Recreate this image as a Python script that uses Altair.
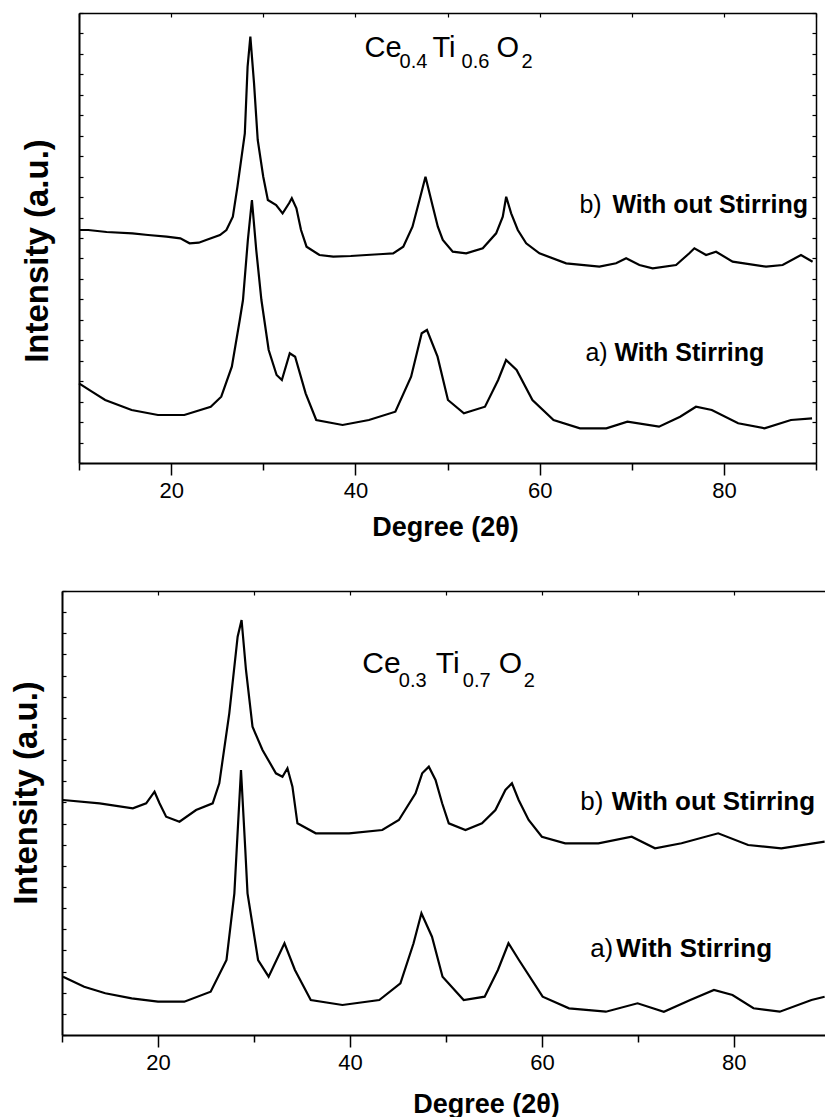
import altair as alt
import pandas as pd

FONT = "Liberation Sans"

# ---------------- Top panel: Ce0.4 Ti0.6 O2 ----------------
top_a_deg = [10.0, 11.4, 12.84, 15.71, 18.57, 21.43, 24.3, 25.44, 26.59, 27.45,
             27.8, 28.33, 28.77, 29.24, 29.8, 30.59, 31.45, 32.02, 32.88, 33.46,
             34.6, 35.75, 38.61, 41.47, 44.34, 46.05, 47.2, 47.77, 48.92, 50.05,
             51.78, 54.07, 55.5, 56.36, 57.5, 59.22, 61.51, 64.38, 67.24, 69.53,
             72.96, 75.25, 76.97, 78.69, 81.55, 84.41, 87.28, 89.57]
top_a_int = [79.7, 71.3, 63, 53, 48, 48, 56.3, 66.3, 96.3, 143,
             163, 223, 263, 213, 163, 113, 88, 83, 109.7, 106.3,
             69.7, 43, 38, 43, 51.3, 86.3, 129.7, 133, 106.3, 63,
             49.7, 56.3, 83, 103, 93, 63, 43, 34.7, 34.7, 41.3,
             36.3, 46.3, 56.3, 53, 39.7, 34.7, 43, 44.7]

top_b_deg = [10.0, 11.0, 13.0, 15.8, 17.5, 19.5, 21.0, 22.0, 23.0, 23.8,
             25.3, 26.0, 26.7, 27.2, 28.0, 28.3, 28.6, 29.0, 29.4, 30.0,
             30.5, 31.4, 32.1, 32.8, 33.1, 33.6, 34.1, 34.7, 36.1, 37.6,
             39.5, 41.2, 43.0, 44.1, 45.2, 46.2, 46.96, 47.61, 48.41, 48.95,
             49.49, 50.57, 52.03, 53.83, 55.28, 56.0, 56.37, 56.91, 57.63, 58.54,
             59.98, 62.88, 66.49, 68.3, 69.39, 70.83, 72.27, 74.81, 76.25, 76.8,
             78.07, 79.15, 80.95, 84.58, 86.38, 88.37, 89.63]
top_b_int = [233, 233, 231, 229.7, 228, 226.3, 224.7, 219.7, 220.3, 223,
             228, 233, 246.3, 276.3, 329.7, 396.3, 426.3, 379.7, 323, 286.3,
             263, 258, 249.7, 259.7, 264.7, 254.7, 233, 216.3, 208, 206.3,
             207, 208, 209, 209.7, 216.3, 236.3, 263, 286.3, 256.3, 236.3,
             223, 211.3, 209.7, 214.7, 229.7, 246.3, 266.3, 249.7, 233, 219.7,
             209.7, 199.7, 196.3, 199.7, 204.7, 198, 194.7, 198, 209.7, 214.7,
             208, 211.3, 201.3, 196.3, 198, 208, 201.3]

# ---------------- Bottom panel: Ce0.3 Ti0.7 O2 ----------------
bot_a_deg = [10.11, 12.31, 14.51, 17.26, 20.0, 22.74, 25.49, 27.14, 27.96, 28.2,
             28.65, 29.1, 29.33, 30.43, 31.53, 33.18, 34.27, 35.92, 39.22, 43.06,
             45.26, 46.63, 47.45, 48.55, 49.65, 51.85, 54.04, 55.42, 56.52, 57.61,
             60.08, 62.83, 66.67, 69.97, 72.71, 75.46, 77.93, 79.86, 82.05, 84.79,
             88.09, 89.46]
bot_a_int = [58.3, 48.3, 41.7, 36.7, 33.3, 33.3, 43.3, 75, 141.7, 185,
             265, 185, 141.7, 75, 58.3, 91.7, 65, 35, 30, 35,
             51.7, 91.7, 121.7, 98.3, 58.3, 35, 38.3, 65, 91.7, 75,
             38.3, 26.7, 23.3, 31.7, 23.3, 35, 45, 40, 26.7, 23.3,
             35, 38.3]

bot_b_deg = [10.1, 13.92, 17.38, 18.77, 19.64, 20.16, 20.85, 22.24, 23.97, 25.7,
             26.39, 27.43, 28.3, 28.71, 29.17, 29.85, 30.89, 32.29, 32.97, 33.49,
             34.01, 34.53, 36.44, 39.91, 43.37, 45.1, 46.84, 47.53, 48.22, 48.92,
             49.61, 50.3, 52.04, 53.76, 55.16, 56.2, 56.88, 57.58, 58.62, 60.0,
             62.43, 65.89, 69.36, 71.79, 74.55, 78.37, 81.49, 84.95, 89.46]
bot_b_int = [235, 231.7, 226.7, 231.7, 243.3, 231.7, 218.3, 213.3, 225, 231.7,
             251.7, 321.7, 398.3, 415, 365, 308.3, 285, 261.7, 258.3, 266.7,
             248.3, 211.7, 201.7, 201.7, 205, 215, 241.7, 261.7, 268.3, 255,
             231.7, 211.7, 205, 211.7, 225, 245, 251.7, 235, 215, 198.3,
             191.7, 191.7, 198.3, 186.7, 191.7, 201.7, 190, 186.7, 193.3]

# ---------------- annotations (text, degree, intensity) ----------------
top_formula = [("Ce", 41.0, 406.3), ("Ti", 48.37, 406.3), ("O", 55.32, 406.3)]
top_subs = [("0.4", 44.79, 394.7), ("0.6", 51.52, 394.7), ("2", 58.03, 394.7)]
top_prefix = [("b)", 64.32, 249.7), ("a)", 64.97, 102.3)]
top_bold = [("With out Stirring", 67.9, 249.7), ("With Stirring", 68.12, 102.3)]

bot_formula = [("Ce", 41.29, 361.7), ("Ti", 48.95, 361.7), ("O", 55.5, 361.7)]
bot_subs = [("0.3", 45.10, 348.3), ("0.7", 51.76, 348.3), ("2", 58.1, 348.3)]
bot_prefix = [("b)", 63.99, 225), ("a)", 65.03, 78.3)]
bot_bold = [("With out Stirring", 67.28, 225), ("With Stirring", 67.76, 78.3)]


def text_layer(rows, size, weight, xs, ys):
    df = pd.DataFrame(rows, columns=["t", "deg", "I"])
    return alt.Chart(df).mark_text(
        align="left", baseline="alphabetic", font=FONT, fontSize=size,
        fontWeight=weight, color="black"
    ).encode(
        x=alt.X("deg:Q", scale=xs, axis=None),
        y=alt.Y("I:Q", scale=ys, axis=None),
        text="t:N",
    )


def make_panel(a_deg, a_int, b_deg, b_int, xdom, xrange, ydom, w, h, yticks, xticks,
               show_right, left_offset, ytx, yty, xtx, xty, texts, fs_formula, fs_label):
    xs = alt.Scale(domain=xdom, range=xrange, nice=False, zero=False)
    ys = alt.Scale(domain=ydom, nice=False, zero=False)
    df_a = pd.DataFrame({"deg": a_deg, "I": a_int})
    df_b = pd.DataFrame({"deg": b_deg, "I": b_int})

    bottom_axis = alt.Axis(
        orient="bottom", values=xticks, grid=False,
        labelExpr="datum.value % 20 === 0 ? datum.label : ''",
        tickSize={"condition": {"test": "datum.value % 20 === 0", "value": 12}, "value": 7},
        tickColor="black", tickWidth=1.5, domainColor="black", domainWidth=2,
        labelFont=FONT, labelFontSize=22, labelColor="black", labelPadding=5,
        title="Degree (2θ)", titleFont=FONT, titleFontSize=27, titleFontWeight="bold",
        titleColor="black", titleX=xtx, titleY=xty, titleAlign="center",
        titleBaseline="alphabetic",
    )
    left_axis = alt.Axis(
        orient="left", values=yticks, grid=False, labels=False, offset=left_offset,
        tickSize={"expr": "-4"}, tickColor="black", tickWidth=1.2,
        domainColor="black", domainWidth=2,
        title="Intensity (a.u.)", titleFont=FONT, titleFontSize=33,
        titleFontWeight="bold", titleColor="black", titleAngle=270,
        titleAlign="center", titleBaseline="middle", titleX=ytx, titleY=yty,
    )
    top_axis = alt.Axis(
        orient="top", values=xticks, grid=False, labels=False, title=None,
        tickSize={"expr": "-4"}, tickColor="black", tickWidth=1.2,
        domainColor="black", domainWidth=1.5,
    )
    if show_right:
        right_axis = alt.Axis(
            orient="right", values=yticks, grid=False, labels=False, title=None,
            tickSize={"expr": "-4"}, tickColor="black", tickWidth=1.2,
            domainColor="black", domainWidth=1.5,
        )
    else:
        right_axis = None

    line_a = alt.Chart(df_a).mark_line(color="black", strokeWidth=2.2, clip=True).encode(
        x=alt.X("deg:Q", scale=xs, axis=bottom_axis),
        y=alt.Y("I:Q", scale=ys, axis=left_axis),
    )
    line_b = alt.Chart(df_b).mark_line(color="black", strokeWidth=2.2, clip=True).encode(
        x=alt.X("deg:Q", scale=xs, axis=top_axis),
        y=alt.Y("I:Q", scale=ys, axis=right_axis),
    )
    formula, subs, prefix, bold = texts
    layers = [
        line_a, line_b,
        text_layer(formula, fs_formula, "normal", xs, ys),
        text_layer(subs, 20, "normal", xs, ys),
        text_layer(prefix, fs_label, "normal", xs, ys),
        text_layer(bold, fs_label, "bold", xs, ys),
    ]
    return alt.layer(*layers).resolve_axis(x="independent", y="independent").properties(
        width=w, height=h
    )


top_yticks = [i * 450 / 22 for i in range(23)]
bot_yticks = [i * 444 / 21 for i in range(22)]

# top panel: plot area shifted 17 px right of the bottom panel's
top = make_panel(
    top_a_deg, top_a_int, top_b_deg, top_b_int,
    [10, 90], [17, 754], [0, 450], 754, 450, top_yticks, list(range(10, 91, 10)), True,
    -17, -42, 237.5, 383, 72,
    (top_formula, top_subs, top_prefix, top_bold), 29, 25,
)
bottom = make_panel(
    bot_a_deg, bot_a_int, bot_b_deg, bot_b_int,
    [10, 89.5], [0, 763], [0, 444], 763, 444, bot_yticks, list(range(10, 81, 10)), False,
    0, -36, 201.5, 424, 77,
    (bot_formula, bot_subs, bot_prefix, bot_bold), 30, 26,
)

chart = (
    alt.vconcat(top, bottom, spacing=128, bounds="flush")
    .properties(padding={"left": 10, "top": 12, "right": 0, "bottom": 0})
    .configure(font=FONT, background="white")
    .configure_view(strokeWidth=0, strokeOpacity=0)
)

chart.save("out.html", embed_options={"renderer": "svg", "actions": False})
